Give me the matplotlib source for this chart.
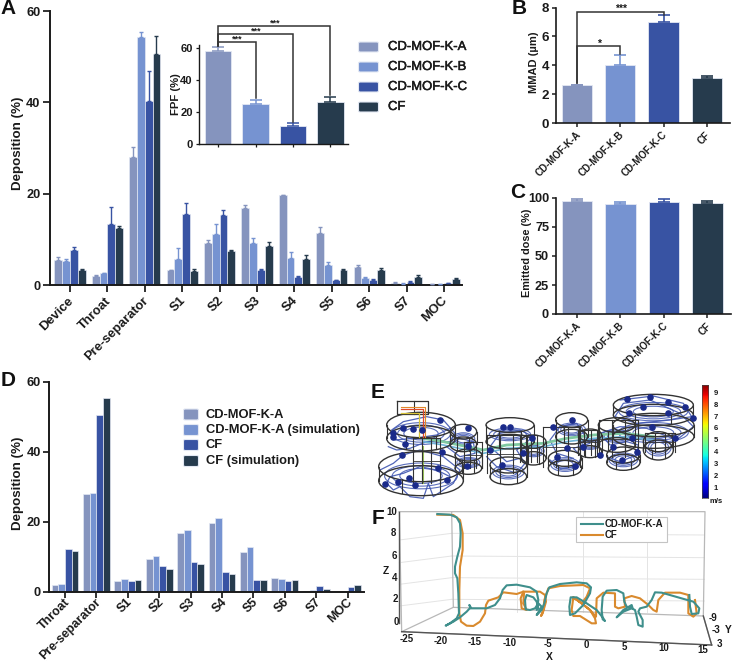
import matplotlib
matplotlib.use("Agg")
import matplotlib.pyplot as plt
import matplotlib.patheffects as pe
from matplotlib.transforms import ScaledTranslation
import numpy as np
from matplotlib.patches import FancyBboxPatch, Ellipse

plt.rcParams['font.family'] = ['Liberation Sans', 'DejaVu Sans']
W, H = 733, 664
fig = plt.figure(figsize=(W/100, H/100), dpi=100)
INK = '#1a1a1a'
COLORS = ['#8594BE', '#7693D1', '#3853A3', '#263B4D']
EDGE = '#e3e8f3'

# ---------- data ----------
SERIES = ['CD-MOF-K-A', 'CD-MOF-K-B', 'CD-MOF-K-C', 'CF']
A_CATS = ['Device', 'Throat', 'Pre-separator', 'S1', 'S2', 'S3', 'S4', 'S5', 'S6', 'S7', 'MOC']
A_VALS = [[5.5, 2.0, 28.0, 3.2, 9.3, 16.8, 19.6, 11.4, 4.0, 0.5, 0.2],
          [5.2, 2.6, 54.2, 5.7, 11.1, 9.2, 6.0, 4.3, 1.6, 0.3, 0.2],
          [7.6, 13.4, 40.2, 15.5, 15.4, 3.2, 1.8, 1.1, 1.2, 0.7, 0.4],
          [3.2, 12.4, 50.5, 3.1, 7.4, 8.5, 5.8, 3.3, 3.2, 1.8, 1.3]]
A_ERRS = [[0.7, 0.2, 2.3, 0.1, 0.6, 0.8, 0.1, 1.2, 0.3, 0.05, 0.0],
          [0.6, 0.1, 1.2, 2.5, 2.2, 1.2, 1.3, 0.8, 0.1, 0.05, 0.0],
          [0.7, 3.6, 6.6, 2.5, 1.1, 0.2, 0.2, 0.1, 0.1, 0.1, 0.05],
          [0.4, 0.6, 4.0, 0.4, 0.3, 1.0, 0.8, 0.1, 0.5, 0.4, 0.3]]
FPF_VALS = [58, 25, 11.5, 26]
FPF_ERRS = [2.5, 2.5, 1.5, 3.5]
FPF_BRACKETS = [(1, 63.9, 28.5), (2, 68.9, 13.5), (3, 73.9, 30.5)]
MMAD_VALS = [2.6, 4.0, 7.0, 3.1]
MMAD_ERRS = [0.05, 0.7, 0.45, 0.15]
ED_VALS = [97.5, 95, 96.5, 95.5]
ED_ERRS = [1.5, 1.5, 3, 2]
D_CATS = ['Throat', 'Pre-separator', 'S1', 'S2', 'S3', 'S4', 'S5', 'S6', 'S7', 'MOC']
D_SERIES = ['CD-MOF-K-A', 'CD-MOF-K-A (simulation)', 'CF', 'CF (simulation)']
D_VALS = [[2.0, 28.0, 3.2, 9.4, 16.8, 19.7, 11.4, 4.0, 0.4, 0.2],
          [2.3, 28.4, 3.6, 10.3, 17.6, 21.2, 13.0, 3.7, 0.5, 0.3],
          [12.4, 50.5, 3.1, 7.4, 8.5, 5.8, 3.3, 3.2, 1.8, 1.3],
          [11.7, 55.5, 3.5, 6.7, 8.1, 5.2, 3.5, 3.3, 1.0, 2.1]]

# panel F traces, in the panel's own plotting units
F_TEAL = [(232,12),(270,14),(290,22),(300,40),(302,70),(300,110),(292,140),(285,170),(285,190),(292,205),(295,250),
          (297,310),(290,325),(270,340),(257,347),(280,335),(300,322),(320,305),(332,292),(328,285),(332,295),(380,295),
          (405,285),(420,265),(428,240),(440,226),(470,224),(510,232),(530,245),(535,270),(530,300),(535,295),(530,275),
          (520,262),(500,255),(495,270),(497,298),(510,300),(525,295),(535,280),(545,290),(530,315),(545,300),(553,280),
          (560,250),(568,232),(600,222),(650,217),(680,220),(693,232),(690,250),(670,285),(645,310),(630,315),(628,290),
          (632,262),(650,262),(680,280),(710,300),(730,325),(735,333),(728,328),(725,300),(728,260),(740,242),(770,240),
          (790,250),(793,275),(800,290),(818,295),(815,285),(790,300),(770,322),(790,305),(815,295),(825,300),(830,320),
          (835,345),(848,350),(848,330),(835,305),(840,295),(860,290),(875,270),(885,247),(905,248),(940,258),(975,268),
          (1000,275),(1018,295),(1015,310),(995,312),(990,290),(988,255)]
F_ORANGE = [(232,14),(280,15),(300,30),(308,70),(308,120),(300,170),(298,240),(298,310),(303,335),(320,347),(340,348),
            (360,335),(375,310),(378,285),(385,272),(415,262),(430,247),(470,252),(490,245),(540,245),(555,255),(558,275),
            (548,310),(543,318),(550,300),(553,270),(565,235),(600,228),(670,225),(690,235),(680,260),(665,280),(640,262),
            (665,280),(690,300),(705,325),(708,340),(695,340),(660,318),(640,318),(635,300),(640,262),(665,280),(690,300),
            (708,320),(710,265),(730,248),(765,250),(765,290),(775,295),(795,290),(793,265),(815,258),(840,265),(865,285),
            (880,300),(890,305),(895,270),(915,248),(960,248),(985,255),(985,310),(1000,320),(1010,310),(1005,270)]
F_LOOP_ORANGE = [(490,245),(482,265),(485,295),(500,300),(490,280),(492,250)]

# panel E chambers: centre x, top y, radius x, radius y, height
E_CYL = [(183,290,127,45,42),(183,165,103,38,40),(310,185,40,22,38),(325,255,40,18,40),(450,165,72,22,50),
         (445,285,55,24,35),(520,215,38,20,50),(635,150,48,22,50),(615,265,50,24,30),(690,195,35,18,50),
         (770,165,55,22,60),(790,255,50,24,22),(880,105,120,32,30),(880,165,122,35,35),(895,215,45,30,25)]
E_BOX = [(112,92,205,132)]
E_FRAMES = [(160,205,240,340),(312,215,365,295),(380,195,500,310),(480,195,530,275),(550,170,660,290),(655,180,710,255),
            (718,150,835,262),(855,190,945,245)]
E_STREAMS = [[(60,300),(100,280),(130,255),(180,240),(250,260),(300,300),(280,340),(220,380),(205,340),(190,385),(150,380),
              (120,350),(100,360),(80,340),(90,320),(130,310),(180,290),(230,300),(270,320)],
             [(85,230),(110,240),(150,235),(200,215),(270,215),(285,190),(250,150),(200,140),(130,155),(95,180),(105,210),
              (160,205),(230,195),(270,175)],
             [(380,260),(410,290),(470,310),(495,280),(470,240),(520,200),(480,180),(420,190),(390,230),(440,275),(480,265)],
             [(570,270),(600,295),(650,290),(665,260),(640,235),(690,220),(650,160),(600,170),(570,210),(590,250),(640,265)],
             [(740,260),(780,275),(830,255),(835,225),(800,215),(750,225),(720,190),(780,170),(860,175),(950,210),(1000,170),
              (960,130),(870,90),(790,100),(765,140),(830,160),(930,150),(995,140),(970,100),(880,78),(780,90)],
             [(260,230),(300,260),(345,250),(340,215),(300,205),(270,225)]]
E_ARROWS = [(100,190),(130,175),(240,150),(160,178),(100,200),(135,222),(185,180),(125,255),(245,245),(235,293),(148,325),
            (260,330),(75,342),(165,345),(115,335),(325,175),(325,228),(320,288),(428,172),(450,170),(390,240),(425,285),(490,250),
            (515,205),(635,150),(620,235),(590,260),(645,288),(580,170),(670,230),(800,88),(870,80),(925,95),(975,110),(808,128),(850,112),
            (925,130),(998,145),(945,205),(815,205),(785,270),(830,245),(875,170),(720,255),(760,232)]
E_AXIS = [(190,205),(250,215),(370,240),(440,225),(550,220),(620,205),(700,195),(790,190),(880,200)]
CB_TICKS = [1, 2, 3, 4, 5, 6, 7, 8, 9]
F_Z = [10, 8, 6, 4, 2, 0]
F_X = [-25, -20, -15, -10, -5, 0, 5, 10, 15]
F_Y = [-9, -3, 3]


def ax_px(l, t, r, b, **kw):
    return fig.add_axes([l/W, 1-b/H, (r-l)/W, (b-t)/H], **kw)


def style(ax, lw=1.4, size=9.2, tl=5):
    ax.patch.set_alpha(0)
    for s in ('top', 'right'):
        ax.spines[s].set_visible(False)
    for s in ('left', 'bottom'):
        ax.spines[s].set_linewidth(lw)
        ax.spines[s].set_color(INK)
    ax.tick_params(width=lw*0.9, length=tl, color=INK, labelsize=size, pad=2)
    for t in ax.get_yticklabels():
        t.set_fontweight('bold')
        t.set_color(INK)


def xcats(ax, labels, size, shift=2.5):
    ax.set_xticklabels(labels, rotation=45, ha='right', va='top', rotation_mode='anchor',
                       fontsize=size, fontweight='bold', color=INK)
    off = ScaledTranslation(-shift/100, 0, fig.dpi_scale_trans)
    for t in ax.get_xticklabels():
        t.set_transform(t.get_transform() + off)


def ylab(ax, text, size, px, py):
    """Place a y label with its centre at figure pixel (px, py)."""
    ax.set_ylabel(text, fontsize=size, fontweight='bold', color=INK, va='center')
    inv = ax.transAxes.inverted()
    ax.yaxis.set_label_coords(*inv.transform((px, H-py)))


def bracket(ax, x0, x1, y, y0, y1, color='#333333', lw=1.1, stars='***', sx=None, dy=0, fs=7):
    ax.plot([x0, x0, x1, x1], [y0, y, y, y1], color=color, lw=lw, clip_on=False, solid_joinstyle='miter', zorder=5)
    ax.text((x0+x1)/2 if sx is None else sx, y+dy, stars, ha='center', va='center', fontsize=fs, fontweight='bold', color=INK, clip_on=False)


def err(ax, x, v, e, c, lw, cap):
    ax.errorbar(x, v, yerr=[[0]*len(np.atleast_1d(v)), e], fmt='none', ecolor=c, elinewidth=lw, capsize=cap, capthick=lw, clip_on=False, zorder=3)


# ---------- A ----------
ax = ax_px(50, 11, 462, 285)
spacing = 37.4
ax.set_xlim(-20/spacing, (462-70)/spacing)
ax.set_ylim(0, 60)
bw = 0.208
xa = np.arange(len(A_CATS))
for i in range(4):
    x = xa + (i-1.5)*bw
    ax.bar(x, A_VALS[i], bw, color=COLORS[i], edgecolor=EDGE, linewidth=0.5, zorder=2)
    err(ax, x, A_VALS[i], A_ERRS[i], COLORS[i], 1.0, 1.2)
ax.set_xticks(xa)
ax.set_yticks([0, 20, 40, 60])
style(ax)
xcats(ax, A_CATS, 9.4)
ylab(ax, 'Deposition (%)', 9.6, 18, 143)

# inset FPF
ins = ax_px(199, 44.8, 348, 144)
ins.set_xlim(-0.51, 3.47)
ins.set_ylim(0, 62)
ins.bar(range(4), FPF_VALS, 0.7, color=COLORS, edgecolor=EDGE, linewidth=0.6, zorder=2)
for i in range(4):
    err(ins, [i], [FPF_VALS[i]], [FPF_ERRS[i]], COLORS[i], 1.1, 4)
ins.set_xticks(range(4))
ins.set_xticklabels([])
ins.set_yticks([0, 20, 40, 60])
style(ins, lw=1.0, size=8, tl=2.5)
ylab(ins, 'FPF (%)', 8.2, 176, 94)
for (j, y, y1), sx in zip(FPF_BRACKETS, (0.5, 1.02, 1.52)):
    bracket(ins, 0, j, y, 61, y1, sx=sx, dy=1.4, fs=6.5)

# ---------- B ----------
bx = ax_px(556, 7.5, 730, 123)
bx.set_xlim(-0.49, 3.54)
bx.set_ylim(0, 8)
bx.bar(range(4), MMAD_VALS, 0.7, color=COLORS, edgecolor=EDGE, linewidth=0.6, zorder=2)
for i in range(4):
    err(bx, [i], [MMAD_VALS[i]], [MMAD_ERRS[i]], COLORS[i], 1.2, 4.5)
bx.set_xticks(range(4))
bx.set_yticks([0, 2, 4, 6, 8])
style(bx, lw=1.2, size=9.6, tl=3)
xcats(bx, SERIES, 7, shift=1.5)
ylab(bx, 'MMAD (µm)', 8, 534, 62.5)
bracket(bx, 0, 1, 5.33, 2.8, 4.75, stars='*', sx=0.5, dy=0.18, fs=7.5)
bracket(bx, 0, 2, 7.72, 2.8, 7.5, sx=1.02, dy=0.18, fs=7.5)

# ---------- C ----------
cx = ax_px(556, 198, 731, 314)
cx.set_xlim(-0.48, 3.54)
cx.set_ylim(0, 100)
cx.bar(range(4), ED_VALS, 0.7, color=COLORS, edgecolor=EDGE, linewidth=0.6, zorder=2)
for i in range(4):
    err(cx, [i], [ED_VALS[i]], [ED_ERRS[i]], COLORS[i], 1.2, 4.5)
cx.set_xticks(range(4))
cx.set_yticks([0, 25, 50, 75, 100])
style(cx, lw=1.2, size=9.2, tl=3)
xcats(cx, SERIES, 7, shift=1.5)
ylab(cx, 'Emitted dose (%)', 7.8, 527, 253)

# ---------- D ----------
dx = ax_px(49, 382, 364, 592)
sp = 31.4
dx.set_xlim(-16/sp, (364-65)/sp)
dx.set_ylim(0, 60)
dw = 6.7/sp
xd = np.arange(len(D_CATS))
for i in range(4):
    dx.bar(xd + (i-1.5)*dw, D_VALS[i], dw, color=COLORS[i], edgecolor=EDGE, linewidth=0.5, zorder=2)
dx.set_xticks(xd)
dx.set_yticks([0, 20, 40, 60])
style(dx, tl=4)
dx.tick_params(axis='x', pad=-1)
xcats(dx, D_CATS, 8.9, shift=1.5)
ylab(dx, 'Deposition (%)', 9.6, 18, 483)

# ---------- E ----------
ex = ax_px(360, 370, 733, 520)
ex.set_xlim(0, 1119)
ex.set_ylim(450, 0)
ex.axis('off')
ex.patch.set_alpha(0)
BLUE = '#3f55b0'
GRID = '#333333'
for (c, t, rx, ry, h) in E_CYL:
    for f in (0.86, 0.68, 0.5):
        ex.add_patch(Ellipse((c, t+h*0.5+ry*0.15), 2*rx*f, 2*ry*f, fill=False, ec=BLUE, lw=0.8, alpha=0.85, zorder=2))
    ex.add_patch(Ellipse((c, t), 2*rx, 2*ry, fill=False, ec=GRID, lw=1.0, zorder=4))
    ex.add_patch(Ellipse((c, t+h), 2*rx, 2*ry, fill=False, ec=GRID, lw=1.0, zorder=4))
    for dxx in (-rx, -rx*0.45, rx*0.45, rx):
        ex.plot([c+dxx, c+dxx], [t + (0 if abs(dxx) == rx else ry*0.85), t+h+(0 if abs(dxx) == rx else ry*0.85)], color=GRID, lw=0.8, zorder=4)
for st in E_STREAMS:
    ex.plot(*zip(*st), color=BLUE, lw=0.9, alpha=0.9, solid_joinstyle='round', zorder=2)
for (x0, y0, x1, y1) in E_FRAMES:
    for xv in np.linspace(x0, x1, 4):
        ex.plot([xv, xv], [y0, y1], color=GRID, lw=0.8, zorder=4)
    ex.plot([x0, x1], [y0, y0], color=GRID, lw=0.8, zorder=4)
    ex.plot([x0, x1], [(y0+y1)/2, (y0+y1)/2], color=GRID, lw=0.6, zorder=4)
for (x0, y0, x1, y1) in E_BOX:
    ex.plot([x0, x1, x1, x0, x0], [y0, y0, y1, y1, y0], color=GRID, lw=0.9, zorder=4)
    ex.plot([x0+50, x0+50], [y0, y1], color=GRID, lw=0.8, zorder=4)
    ex.plot([122, 188, 188], [118, 118, 200], color='#e0472a', lw=0.9, zorder=5)
    ex.plot([122, 176, 176], [128, 128, 200], color='#d9c43a', lw=0.9, zorder=5)
    ex.plot([122, 196, 196], [112, 112, 200], color='#e08a2a', lw=0.8, zorder=5)
ex.plot([p[0] for p in E_AXIS], [p[1] for p in E_AXIS], color='#7fc8a0', lw=2.0, zorder=3)
ex.plot([p[0] for p in E_AXIS], [p[1]+10 for p in E_AXIS], color='#6fb6d8', lw=1.2, zorder=3)
ex.plot([188, 188], [230, 340], color='#9bc65a', lw=1.5, zorder=3)
ex.scatter([p[0] for p in E_ARROWS], [p[1] for p in E_ARROWS], s=14, marker='o', color='#1a2a8a', zorder=6)
# colour bar
cbax = ax_px(360+1025/3, 370+45/3, 360+1045/3, 370+385/3)
cbax.imshow(np.linspace(1, 0, 256).reshape(-1, 1), aspect='auto', cmap='jet', extent=(0, 1, 0, 9.8))
cbax.set_xticks([])
cbax.set_yticks([])
for s in cbax.spines.values():
    s.set_linewidth(0.5)
    s.set_color('#444444')
for v in CB_TICKS:
    ex.text(1067, 390-35.5*v, str(v), fontsize=5.5, fontweight='bold', ha='center', va='center', color=INK)
ex.text(1068, 395, 'm/s', fontsize=5.5, fontweight='bold', ha='center', va='center', color=INK)

# ---------- F ----------
fx = ax_px(360, 510, 733, 664)
fx.set_xlim(0, 1119)
fx.set_ylim(462, 0)
fx.axis('off')
fx.patch.set_alpha(0)
G = '#e4e4e4'
for y in (70, 138, 203, 268):
    fx.plot([275, 1033], [y, y+5], color=G, lw=0.7)
    fx.plot([118, 275], [y+20, y], color=G, lw=0.7)
for x in (470, 670, 860):
    fx.plot([x, x], [5, 305], color=G, lw=0.7)
F1 = '#b8b8b8'
fx.plot([118, 1035, 1030, 1055, 125, 118], [5, 5, 318, 405, 365, 5], color=F1, lw=0.9)
fx.plot([125, 280, 1030], [365, 292, 318], color=F1, lw=0.9)
fx.plot([275, 280], [5, 292], color=F1, lw=0.9)
fx.plot([118, 118], [5, 340], color='#555555', lw=1.0)
fx.plot([125, 1055], [365, 405], color='#555555', lw=1.0)
fx.plot([1030, 1055], [318, 405], color='#555555', lw=1.0)
TEAL = '#3f8f8c'
ORANGE = '#d98a2e'
fx.plot(*zip(*F_ORANGE), color=ORANGE, lw=1.5, solid_joinstyle='round', zorder=3)
fx.plot(*zip(*F_LOOP_ORANGE), color=ORANGE, lw=1.5, solid_joinstyle='round', zorder=3)
fx.plot(*zip(*F_TEAL), color=TEAL, lw=1.5, solid_joinstyle='round', zorder=4)
fx.add_patch(plt.Rectangle((648, 22), 272, 75, fc='white', ec='#c4c4c4', lw=0.8, zorder=5))
fx.plot([662, 728], [42, 42], color=TEAL, lw=1.5, zorder=6)
fx.plot([662, 728], [75, 75], color=ORANGE, lw=1.5, zorder=6)
fx.text(733, 42, 'CD-MOF-K-A', fontsize=6.9, fontweight='bold', va='center', zorder=6, color=INK)
fx.text(733, 76, 'CF', fontsize=6.9, fontweight='bold', va='center', zorder=6, color=INK)
for v, (x, y) in zip(F_Z, [(95, 5), (100, 70), (103, 138), (103, 203), (105, 268), (108, 335)]):
    fx.text(x, y, str(v), fontsize=7, fontweight='bold', ha='center', va='center', color=INK)
for v, (x, y) in zip(F_X, [(140, 388), (242, 392), (345, 396), (450, 398), (563, 402), (678, 406), (793, 410), (910, 414), (1028, 420)]):
    fx.text(x, y, str(v), fontsize=7, fontweight='bold', ha='center', va='center', color=INK)
for v, (x, y) in zip(F_Y, [(1060, 325), (1068, 360), (1077, 403)]):
    fx.text(x, y, str(v), fontsize=7, fontweight='bold', ha='center', va='center', color=INK)
fx.text(567, 440, 'X', fontsize=7.4, fontweight='bold', ha='center', va='center', color=INK)
fx.text(1105, 360, 'Y', fontsize=7.4, fontweight='bold', ha='center', va='center', color=INK)
fx.text(78, 183, 'Z', fontsize=7.4, fontweight='bold', ha='center', va='center', color=INK)

# ---------- overlay: legends and panel letters ----------
ov = fig.add_axes([0, 0, 1, 1])
ov.set_xlim(0, W)
ov.set_ylim(H, 0)
ov.axis('off')
ov.patch.set_alpha(0)
for name, c, y in zip(SERIES, COLORS, (47, 67, 87, 107)):
    ov.add_patch(FancyBboxPatch((358.5, y-5), 20, 10, boxstyle='round,pad=0,rounding_size=1.5', fc=c, ec=EDGE, lw=0.8))
    t = ov.text(388, y, name, fontsize=9.4, va='center', color=INK)
    t.set_path_effects([pe.withStroke(linewidth=0.35, foreground=INK)])
for name, c, y in zip(D_SERIES, COLORS, (414.5, 430, 445, 461)):
    ov.add_patch(FancyBboxPatch((183.5, y-5.5), 15, 11, boxstyle='round,pad=0,rounding_size=1.5', fc=c, ec=EDGE, lw=0.8))
    ov.text(206, y, name, fontsize=9.3, fontweight='bold', va='center', color=INK)
for s, x, y in (('A', 8, 9), ('B', 519, 8), ('C', 518, 192), ('D', 8, 381), ('E', 378, 393), ('F', 378, 518)):
    ov.text(x, y, s, fontsize=15, fontweight='bold', ha='center', va='center', color='#111111')

fig.savefig('out.png', dpi=100, facecolor='white')
